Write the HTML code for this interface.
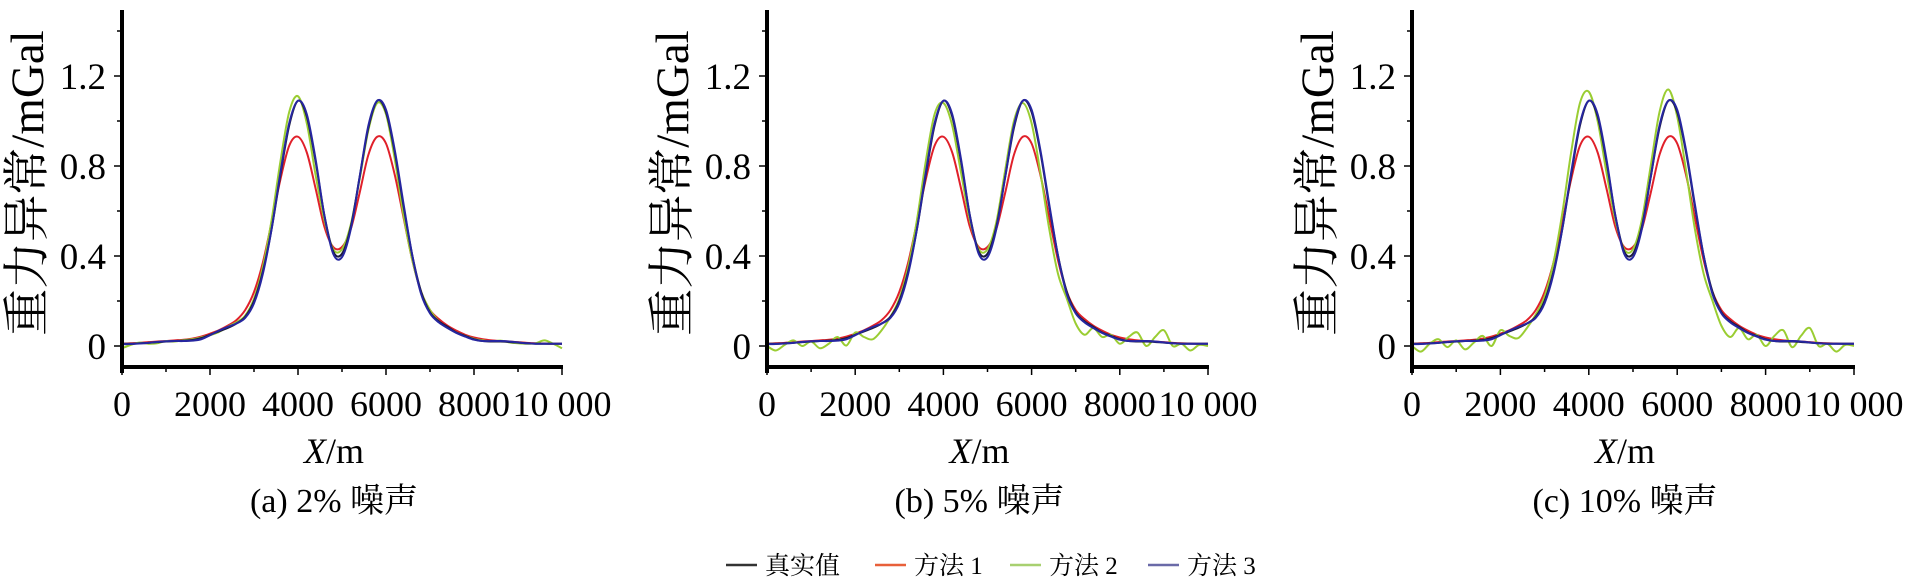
<!DOCTYPE html>
<html><head><meta charset="utf-8"><style>
html,body{margin:0;padding:0;background:#fff;}
svg{display:block;}
text{font-family:"Liberation Serif","Noto Serif CJK SC","Noto Sans CJK SC",serif;fill:#000;}
</style></head><body>
<svg id="chart" width="1907" height="580" viewBox="0 0 1907 580"></svg>
<script>
const xs = [0,200,400,600,800,1000,1200,1400,1600,1800,2000,2200,2400,2600,2800,3000,3200,3400,3600,3800,4000,4200,4400,4600,4800,5000,5200,5400,5600,5800,6000,6200,6400,6600,6800,7000,7200,7400,7600,7800,8000,8200,8400,8600,8800,9000,9200,9400,9600,9800,10000];
const trueVals = [0.010,0.010,0.012,0.014,0.017,0.020,0.022,0.024,0.027,0.035,0.050,0.065,0.080,0.100,0.130,0.200,0.330,0.520,0.760,0.980,1.090,1.020,0.820,0.580,0.420,0.410,0.530,0.750,0.970,1.090,1.040,0.860,0.620,0.400,0.240,0.150,0.110,0.085,0.060,0.045,0.030,0.022,0.020,0.020,0.018,0.015,0.012,0.010,0.010,0.010,0.010];
const method1Vals = [0.010,0.012,0.014,0.017,0.020,0.022,0.025,0.028,0.033,0.042,0.055,0.070,0.090,0.115,0.160,0.240,0.370,0.550,0.740,0.890,0.930,0.860,0.700,0.530,0.440,0.440,0.520,0.680,0.850,0.930,0.900,0.760,0.570,0.380,0.240,0.160,0.120,0.090,0.068,0.050,0.038,0.030,0.025,0.022,0.020,0.017,0.014,0.012,0.011,0.010,0.010];
const method3Vals = [0.008,0.009,0.011,0.014,0.018,0.021,0.022,0.022,0.024,0.030,0.048,0.068,0.085,0.100,0.125,0.190,0.320,0.520,0.770,0.990,1.090,1.030,0.830,0.580,0.410,0.395,0.520,0.750,0.980,1.090,1.050,0.870,0.630,0.400,0.230,0.145,0.105,0.080,0.058,0.042,0.028,0.022,0.022,0.022,0.020,0.016,0.012,0.010,0.010,0.010,0.010];
const method2ValsA = [-0.010,0.005,0.015,0.010,0.012,0.022,0.020,0.026,0.030,0.038,0.048,0.062,0.085,0.105,0.135,0.210,0.350,0.560,0.820,1.040,1.110,0.990,0.760,0.560,0.430,0.430,0.540,0.740,0.960,1.080,1.030,0.830,0.580,0.380,0.240,0.160,0.110,0.080,0.060,0.045,0.032,0.025,0.020,0.024,0.016,0.012,0.010,0.012,0.025,0.010,-0.010];
const method2ValsB = [0.000,-0.020,0.005,0.025,0.000,0.020,-0.010,0.010,0.040,0.002,0.060,0.040,0.030,0.070,0.130,0.210,0.350,0.560,0.820,1.030,1.080,0.980,0.770,0.560,0.430,0.430,0.550,0.780,1.000,1.080,0.990,0.770,0.520,0.320,0.210,0.100,0.050,0.080,0.040,0.050,0.010,0.040,0.060,0.000,0.040,0.070,0.000,0.010,-0.020,0.005,0.000];
const method2ValsC = [0.000,-0.025,0.010,0.030,-0.005,0.025,-0.015,0.015,0.045,0.000,0.070,0.045,0.035,0.080,0.140,0.220,0.370,0.590,0.860,1.080,1.130,1.000,0.770,0.560,0.430,0.430,0.560,0.800,1.040,1.140,1.020,0.780,0.520,0.320,0.200,0.090,0.040,0.080,0.030,0.050,0.000,0.045,0.070,-0.005,0.045,0.080,0.000,0.010,-0.025,0.005,0.000];
const xTickLabels = ["0","2000","4000","6000","8000","10 000"];
const xTickVals = [0,2000,4000,6000,8000,10000];
const yTickLabels = ["0","0.4","0.8","1.2"];
const yTickVals = [0,0.4,0.8,1.2];
const captions = ["(a) 2% 噪声","(b) 5% 噪声","(c) 10% 噪声"];
const legendLabels = ["真实值","方法 1","方法 2","方法 3"];

const NS="http://www.w3.org/2000/svg";
const svg=document.getElementById('chart');
function mk(tag,attrs,parent){const e=document.createElementNS(NS,tag);for(const k in attrs)e.setAttribute(k,attrs[k]);(parent||svg).appendChild(e);return e;}
function smooth(pts){let d="M"+pts[0][0].toFixed(2)+","+pts[0][1].toFixed(2);for(let i=0;i<pts.length-1;i++){const p0=pts[i-1]||pts[i],p1=pts[i],p2=pts[i+1],p3=pts[i+2]||p2;const c1=[p1[0]+(p2[0]-p0[0])/6,p1[1]+(p2[1]-p0[1])/6];const c2=[p2[0]-(p3[0]-p1[0])/6,p2[1]-(p3[1]-p1[1])/6];d+="C"+c1[0].toFixed(2)+","+c1[1].toFixed(2)+" "+c2[0].toFixed(2)+","+c2[1].toFixed(2)+" "+p2[0].toFixed(2)+","+p2[1].toFixed(2);}return d;}

const panels=[{x0:122,x1:562,m2:method2ValsA},{x0:767,x1:1208,m2:method2ValsB},{x0:1412,x1:1854,m2:method2ValsC}];
const yScale=v=>346-v*(270/1.2);
const seriesColors=["#e0202a","#9acd32","#2626a0","#1c1c3c"];
const AXY=367;

panels.forEach((p,pi)=>{
  const g=mk('g',{});
  
  
  const xScale=v=>p.x0+(v/10000)*(p.x1-p.x0);
  const sets=[["method1",method1Vals,seriesColors[0]],["method2",p.m2,seriesColors[1]],["true",trueVals,seriesColors[3]],["method3",method3Vals,seriesColors[2]]];
  sets.forEach(s=>{
    const pts=xs.map((x,i)=>[xScale(x),yScale(s[1][i])]);
    const path=mk('path',{d:smooth(pts),fill:'none',stroke:s[2],'stroke-width':2},g);
    
    
  });
  const ya=mk('line',{x1:p.x0,y1:10,x2:p.x0,y2:AXY+6,stroke:'#000','stroke-width':4},g);
  
  
  const xa=mk('line',{x1:p.x0,y1:AXY,x2:p.x1+1,y2:AXY,stroke:'#000','stroke-width':4},g);
  
  
  for(let v=0;v<=1.4001;v+=0.2){const y=yScale(v);mk('line',{x1:p.x0-(Math.round(v*10)%4===0?8:5),y1:y,x2:p.x0,y2:y,stroke:'#000','stroke-width':1.5},g);}
  for(let v=0;v<=10000;v+=1000){const x=xScale(v);mk('line',{x1:x,y1:AXY,x2:x,y2:(v%2000===0?AXY+8:AXY+5),stroke:'#000','stroke-width':1.5},g);}
  yTickLabels.forEach((t,i)=>{const e=mk('text',{x:p.x0-16,y:yScale(yTickVals[i])+13,'text-anchor':'end','font-size':37},g);e.textContent=t;
    
    });
  xTickLabels.forEach((t,i)=>{const e=mk('text',{x:xScale(xTickVals[i]),y:416,'text-anchor':'middle','font-size':36},g);e.textContent=t;
    
    });
  const yt=mk('text',{x:0,y:0,'text-anchor':'middle','font-size':47,transform:'translate('+(p.x0-79)+',183) rotate(-90)'},g);
  yt.textContent='重力异常/mGal';
  
  
  const xt=mk('text',{x:(p.x0+p.x1)/2-8,y:463,'text-anchor':'middle','font-size':36},g);
  xt.innerHTML='<tspan font-style="italic">X</tspan>/m';
  
  
  const cp=mk('text',{x:(p.x0+p.x1)/2-8,y:512,'text-anchor':'middle','font-size':34},g);
  cp.textContent=captions[pi];
  
  
});

const legendColors=["#333333","#e8603a","#a8d070","#6a6aa8"];
const legendX=[726,875,1010,1148];
legendLabels.forEach((t,i)=>{
  const g=mk('g',{});
  
  
  mk('line',{x1:legendX[i],y1:565,x2:legendX[i]+31,y2:565,stroke:legendColors[i],'stroke-width':2.5},g);
  const e=mk('text',{x:legendX[i]+39,y:574,'font-size':25},g);
  e.textContent=t;
});
</script>
</body></html>
